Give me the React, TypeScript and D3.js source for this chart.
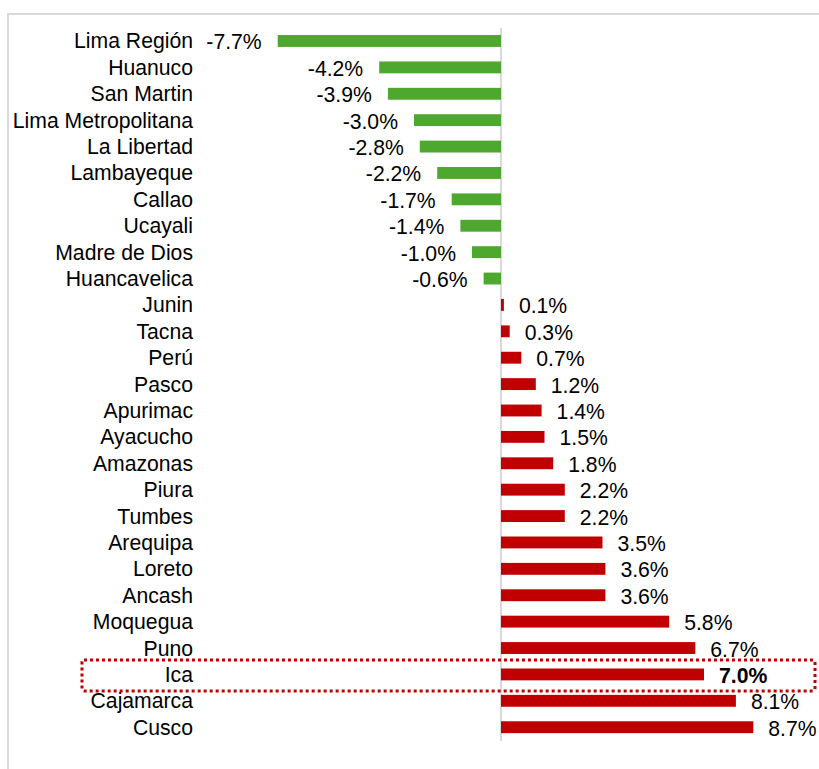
import React from 'react';
import * as d3 from 'd3';

const regions = [
  'Lima Región', 'Huanuco', 'San Martin', 'Lima Metropolitana', 'La Libertad',
  'Lambayeque', 'Callao', 'Ucayali', 'Madre de Dios', 'Huancavelica', 'Junin',
  'Tacna', 'Perú', 'Pasco', 'Apurimac', 'Ayacucho', 'Amazonas', 'Piura', 'Tumbes',
  'Arequipa', 'Loreto', 'Ancash', 'Moquegua', 'Puno', 'Ica', 'Cajamarca', 'Cusco',
];
const growth = [
  -7.7, -4.2, -3.9, -3.0, -2.8, -2.2, -1.7, -1.4, -1.0, -0.6, 0.1, 0.3, 0.7, 1.2,
  1.4, 1.5, 1.8, 2.2, 2.2, 3.5, 3.6, 3.6, 5.8, 6.7, 7.0, 8.1, 8.7,
];
const highlighted = 'Ica';

const W = 819;
const H = 769;
const FONT = 'Arial, "Liberation Sans", sans-serif';
const fmt = (v: number) => v.toFixed(1) + '%'; // plain hyphen, like Excel

export default function App() {
  const x = d3.scaleLinear().domain([-7.7, 8.7]).range([277.7, 753.3]);
  const y = d3.scaleBand<string>()
    .domain(regions)
    .range([27.8, 740.4])
    .paddingInner(0.55)
    .paddingOuter(0.275);
  const bw = y.bandwidth();
  const zero = x(0);
  const hy = (y(highlighted) as number) + bw / 2;

  return (
    <svg width={W} height={H} style={{ position: 'fixed', left: 0, top: 0, background: '#fff' }}>
      <rect x={8} y={14} width={W + 20} height={H + 20} fill="#fff" stroke="#d9d9d9" strokeWidth={2} />
      <line x1={zero} x2={zero} y1={28} y2={741} stroke="#d9d9d9" strokeWidth={2} />
      {regions.map((r, i) => {
        const v = growth[i];
        const cy = (y(r) as number) + bw / 2;
        const x0 = Math.min(x(v), zero);
        const w = Math.abs(x(v) - zero);
        const neg = v < 0;
        return (
          <g key={r}>
            <rect x={x0} y={y(r)} width={w} height={bw} fill={neg ? '#4ea72e' : '#c00000'} />
            <text x={193} y={cy + 7.5} textAnchor="end" fontSize={21.2} fontFamily={FONT} fill="#000">{r}</text>
            <text
              x={neg ? x(v) - 16 : x(v) + 15}
              y={cy + 8.5}
              textAnchor={neg ? 'end' : 'start'}
              fontSize={21.2}
              fontFamily={FONT}
              fontWeight={r === highlighted ? 'bold' : 'normal'}
              fill="#000"
            >
              {fmt(v)}
            </text>
          </g>
        );
      })}
      <rect
        x={82}
        y={hy - 14.5}
        width={733}
        height={31}
        rx={2}
        fill="none"
        stroke="#c00000"
        strokeWidth={3}
        strokeDasharray="3 3"
      />
    </svg>
  );
}
